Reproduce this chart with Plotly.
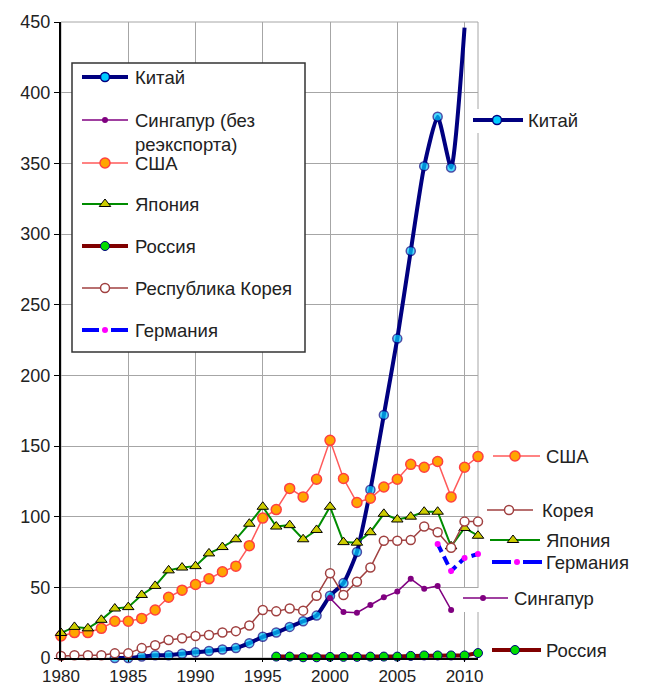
import plotly.graph_objects as go

# ---------------- data ----------------
years_all = list(range(1980, 2012))

china_years = list(range(1984, 2011))
china = [0, 0, 1, 2, 2, 3, 4, 5, 6, 7, 10.5, 15, 18, 22, 26, 30, 44, 53, 75,
         119, 172, 226, 288, 348, 383, 347, 446]

singapore_years = list(range(2000, 2010))
singapore = [42.5, 32.5, 32, 37.5, 43, 47, 56, 49, 51, 34]

usa = [15.6, 18, 18, 21, 26, 26, 28, 34, 43, 48, 52, 56, 61, 65, 79.5, 99,
       105, 120, 114, 126.5, 154, 127, 110, 113, 121, 126.5, 137, 135, 139,
       114, 135, 142.5]

japan = [17.7, 22, 21, 27, 35, 36, 44.6, 51, 62, 64, 65, 74, 78.5, 84, 95,
         107, 93, 94, 84, 90.6, 107, 82, 81.6, 89, 102, 98, 100, 103.5, 103.5,
         79, 92, 86.5]

russia_years = list(range(1996, 2012))
russia = [1, 1, 0.5, 0.5, 0.8, 0.8, 0.8, 1, 1, 1, 1.5, 1.8, 1.8, 1.8, 1.8, 3.5]

korea = [1.5, 2, 2, 2, 3.3, 3.3, 7, 9, 12.7, 14, 15.6, 16.3, 18, 19, 23, 34,
         33, 35, 33.5, 44, 60, 44.6, 54, 64, 83, 83, 83.5, 93, 89, 78, 96.5,
         96.5]

germany_years = list(range(2008, 2012))
germany = [80.7, 61.6, 70.7, 73.6]

x_ticks = [1980, 1985, 1990, 1995, 2000, 2005, 2010]
y_ticks = [0, 50, 100, 150, 200, 250, 300, 350, 400, 450]

legend_names = ["Китай", "Сингапур (без<br>реэкспорта)", "США", "Япония",
                "Россия", "Республика Корея", "Германия"]
end_names = ["Китай", "США", "Корея", "Япония", "Германия", "Сингапур", "Россия"]

# ---------------- styles ----------------
FONT = "Arial, 'Liberation Sans', sans-serif"
TXT = "#222222"
LBL_SIZE = 18.5
TICK_SIZE = 18
XTICK_SIZE = 17
OFF = 8                      # page body margin of the browser
WIN_W, WIN_H = 648, 688
W, H = WIN_W - OFF, WIN_H - OFF
PL, PR, PT, PB = 61, 478, 22, 658   # plot area in window pixels


def fx(v):
    return v - OFF


def fy(v):
    return v - OFF


STY = {
    "china": dict(line=dict(color="#000080", width=4),
                  marker=dict(symbol="circle", size=9, color="#00CCFF",
                              line=dict(color="#000080", width=1.5))),
    "singapore": dict(line=dict(color="#800080", width=1.5),
                      marker=dict(symbol="circle", size=6, color="#800080",
                                  line=dict(color="#800080", width=0))),
    "usa": dict(line=dict(color="#FF5A5A", width=1.5),
                marker=dict(symbol="circle", size=10, color="#FFA500",
                            line=dict(color="#FF4040", width=1.5))),
    "japan": dict(line=dict(color="#008C00", width=2),
                  marker=dict(symbol="triangle-up", size=10, color="#CCCC00",
                              line=dict(color="#000000", width=1))),
    "russia": dict(line=dict(color="#800000", width=4),
                   marker=dict(symbol="circle", size=9, color="#00DD00",
                               line=dict(color="#000080", width=1))),
    "korea": dict(line=dict(color="#A04040", width=1.5),
                  marker=dict(symbol="circle", size=9, color="#FFFFFF",
                              line=dict(color="#A04040", width=1.5))),
    "germany": dict(line=dict(color="#0000FF", width=4, dash="9px,5px"),
                    marker=dict(symbol="circle", size=6, color="#FF00FF",
                                line=dict(color="#FF00FF", width=0))),
}

fig = go.Figure()


def add_series(x, y, key, shape="linear", sizes=None):
    s = STY[key]
    line = dict(s["line"])
    line["shape"] = shape
    if shape == "spline":
        line["smoothing"] = 0.55
    marker = dict(s["marker"])
    if sizes is not None:
        marker["size"] = sizes
    fig.add_trace(go.Scatter(x=x, y=y, mode="lines+markers", line=line,
                             marker=marker, cliponaxis=False,
                             showlegend=False, hoverinfo="x+y"))


china_sizes = [STY["china"]["marker"]["size"]] * (len(china) - 1) + [0]
add_series(china_years, china, "china", shape="spline", sizes=china_sizes)
add_series(singapore_years, singapore, "singapore")
add_series(years_all, usa, "usa")
add_series(years_all, japan, "japan")
add_series(russia_years, russia, "russia")
add_series(years_all, korea, "korea")
add_series(germany_years, germany, "germany")


# ---------------- legend keys / end labels (pixel overlay axis) ----------------
def key_glyph(x0, x1, xm, y, key):
    s = STY[key]
    ln = dict(s["line"])
    ln.pop("dash", None)
    if key == "germany":
        xs = [fx(x0), fx(xm - 6), None, fx(xm + 6), fx(x1)]
        ys = [fy(y), fy(y), None, fy(y), fy(y)]
    else:
        xs, ys = [fx(x0), fx(x1)], [fy(y), fy(y)]
    fig.add_trace(go.Scatter(x=xs, y=ys, mode="lines", line=ln,
                             xaxis="x2", yaxis="y2", showlegend=False,
                             hoverinfo="skip"))
    fig.add_trace(go.Scatter(x=[fx(xm)], y=[fy(y)], mode="markers",
                             marker=s["marker"], xaxis="x2", yaxis="y2",
                             showlegend=False, hoverinfo="skip"))


# legend box
LBX0, LBX1, LBY0, LBY1 = 72, 305, 63, 352
fig.add_shape(type="rect", xref="x2", yref="y2", x0=fx(LBX0), x1=fx(LBX1),
              y0=fy(LBY0), y1=fy(LBY1), fillcolor="white",
              line=dict(color="#333333", width=1.5), layer="below")
legend_keys = ["china", "singapore", "usa", "japan", "russia", "korea", "germany"]
legend_y = [77, 120, 163, 204, 246, 288, 330]
for name, key, yy in zip(legend_names, legend_keys, legend_y):
    key_glyph(82, 128, 105, yy, key)
    multi = "<br>" in name
    fig.add_annotation(x=fx(133), y=fy(yy), xref="x2", yref="y2", text=name,
                       showarrow=False, xanchor="left",
                       yanchor="top" if multi else "middle",
                       yshift=12 if multi else 0,
                       align="left",
                       font=dict(family=FONT, size=LBL_SIZE, color=TXT))

# end labels (right side)
end_keys = ["china", "usa", "korea", "japan", "germany", "singapore", "russia"]
end_geom = [  # (y, x0, x1, xmarker, xtext) in window pixels
    (120, 473, 523, 497, 526),
    (456, 493, 540, 515, 544),
    (510, 487, 533, 509, 540),
    (540, 490, 540, 513, 544),
    (562, 492, 542, 517, 544),
    (598, 463, 508, 483, 512),
    (650, 492, 541, 515, 544),
]
# white patches behind the two labels that start inside the frame
fig.add_shape(type="rect", xref="x2", yref="y2", x0=fx(468), x1=fx(484),
              y0=fy(109), y1=fy(133), fillcolor="white", line=dict(width=0),
              layer="below")
fig.add_shape(type="rect", xref="x2", yref="y2", x0=fx(457), x1=fx(482),
              y0=fy(588), y1=fy(612), fillcolor="white", line=dict(width=0),
              layer="below")
for name, key, (yy, x0, x1, xm, xt) in zip(end_names, end_keys, end_geom):
    key_glyph(x0, x1, xm, yy, key)
    fig.add_annotation(x=fx(xt), y=fy(yy), xref="x2", yref="y2", text=name,
                       showarrow=False, xanchor="left", yanchor="middle",
                       font=dict(family=FONT, size=LBL_SIZE, color=TXT))

# frame (grey right/top border)
fig.add_shape(type="rect", xref="x domain", yref="y domain", x0=0, x1=1,
              y0=0, y1=1, line=dict(color="#A6A6A6", width=1), layer="below")

fig.update_layout(
    template="none",
    width=W, height=H,
    margin=dict(l=0, r=0, t=0, b=0, autoexpand=False),
    paper_bgcolor="white",
    plot_bgcolor="rgba(0,0,0,0)",
    showlegend=False,
    font=dict(family=FONT, color=TXT),
    xaxis=dict(domain=[fx(PL) / W, fx(PR) / W], range=[1980, 2011],
               automargin=False,
               tickvals=x_ticks, ticktext=[str(v) for v in x_ticks],
               showgrid=True, gridcolor="#A6A6A6", gridwidth=1,
               showline=True, linecolor="#000000", linewidth=2,
               ticks="outside", ticklen=2, tickcolor="#000000",
               tickfont=dict(family=FONT, size=XTICK_SIZE, color=TXT),
               zeroline=False, fixedrange=True),
    yaxis=dict(domain=[1 - fy(PB) / H, 1 - fy(PT) / H], range=[0, 450],
               automargin=False,
               tickvals=y_ticks, showgrid=True, gridcolor="#A6A6A6",
               gridwidth=1, showline=True, linecolor="#000000", linewidth=2,
               ticks="outside", ticklen=5, tickcolor="#000000",
               tickfont=dict(family=FONT, size=TICK_SIZE, color=TXT),
               zeroline=False, fixedrange=True),
    xaxis2=dict(domain=[0, 1], range=[0, W], visible=False, anchor="y2",
                automargin=False, fixedrange=True),
    yaxis2=dict(domain=[0, 1], range=[H, 0], visible=False, anchor="x2",
                automargin=False, fixedrange=True),
)

fig.write_html("out.html")
